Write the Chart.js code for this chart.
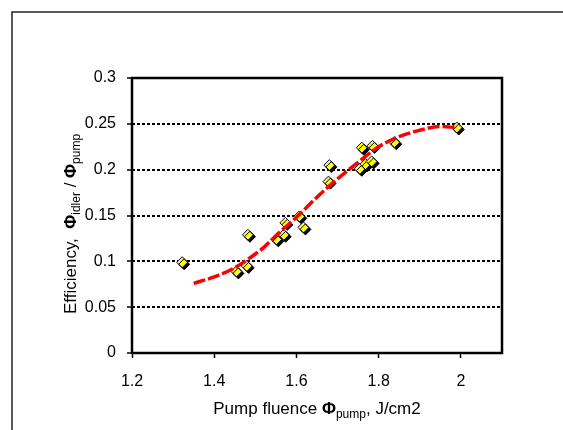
<!DOCTYPE html>
<html>
<head>
<meta charset="utf-8">
<script src="https://cdn.jsdelivr.net/npm/chart.js@4/dist/chart.umd.min.js"></script>
<style>
  html, body { margin: 0; padding: 0; background: #fff; }
  canvas { display: block; }
</style>
</head>
<body>
<canvas id="mainCanvas" width="563" height="430"></canvas>
<script>
// measured points
const fluence    = [1.322, 1.454, 1.479, 1.482, 1.551, 1.569, 1.573, 1.607, 1.617,
                    1.678, 1.680, 1.754, 1.759, 1.768, 1.783, 1.785, 1.838, 1.990];
const efficiency = [0.099, 0.089, 0.095, 0.129, 0.124, 0.129, 0.142, 0.149, 0.137,
                    0.187, 0.205, 0.201, 0.224, 0.206, 0.209, 0.226, 0.230, 0.246];

// red dashed fit curve
const fitX = [1.35, 1.40, 1.45, 1.50, 1.52, 1.55, 1.60, 1.65, 1.70, 1.75, 1.80, 1.85, 1.90, 1.95, 1.99];
const fitY = [0.076, 0.083, 0.093, 0.108, 0.115, 0.128, 0.148, 0.170, 0.190, 0.208, 0.225, 0.236, 0.243, 0.247, 0.246];

// axis ticks
const xTicks = [1.2, 1.4, 1.6, 1.8, 2.0];
const yTicks = [0, 0.05, 0.1, 0.15, 0.2, 0.25, 0.3];

const FONT = "'Liberation Sans', Arial, sans-serif";

/**
 * Draws a run of text pieces (some of them subscripts) centred on x
 */
function drawRich(ctx, parts, x, y) {
  let total = 0;
  parts.forEach(p => {
    ctx.font = `${p.bold ? "bold " : ""}${p.size}px ${FONT}`;
    p.w = ctx.measureText(p.t).width;
    total += p.w;
  });
  let cx = x - total / 2;
  ctx.fillStyle = "#000";
  ctx.textAlign = "left";
  ctx.textBaseline = "alphabetic";
  parts.forEach(p => {
    ctx.font = `${p.bold ? "bold " : ""}${p.size}px ${FONT}`;
    ctx.fillText(p.t, cx, y + (p.dy || 0));
    cx += p.w;
  });
}

const decorations = {
  id: "decorations",
  beforeDatasetDraw(chart, args) {
    if (args.index === 1) {
      const ctx = chart.ctx;
      ctx.save();
      ctx.shadowColor = "#000";
      ctx.shadowOffsetX = 2;
      ctx.shadowOffsetY = 2;
      ctx.shadowBlur = 0;
    }
  },
  afterDatasetDraw(chart, args) {
    if (args.index === 1) {
      chart.ctx.restore();
    }
  },
  afterDraw(chart) {
    const ctx = chart.ctx;
    const a = chart.chartArea;

    // plot box
    ctx.save();
    ctx.strokeStyle = "#000";
    ctx.lineWidth = 2.5;
    ctx.strokeRect(a.left, a.top, a.right - a.left, a.bottom - a.top);

    // outer frame (runs off the right and bottom)
    ctx.strokeStyle = "#222";
    ctx.lineWidth = 1.5;
    ctx.strokeRect(12, 12, 700, 600);

    // x title
    drawRich(ctx, [
      { t: "Pump fluence ", size: 17 },
      { t: "\u03A6", size: 17, bold: true },
      { t: "pump", size: 12, dy: 4 },
      { t: ", J/cm2", size: 17 },
    ], (a.left + a.right) / 2, 414);

    // y title
    ctx.translate(76, 224);
    ctx.rotate(-Math.PI / 2);
    drawRich(ctx, [
      { t: "Efficiency,  ", size: 17 },
      { t: "\u03A6", size: 17, bold: true },
      { t: "idler", size: 12, dy: 4 },
      { t: " / ", size: 17 },
      { t: "\u03A6", size: 17, bold: true },
      { t: "pump", size: 12, dy: 4 },
    ], 0, 0);
    ctx.restore();
  },
};

const fmt = v => String(+Number(v).toFixed(3));

const ctx = document.getElementById("mainCanvas").getContext("2d");
new Chart(ctx, {
  type: "scatter",
  data: {
    datasets: [
      {
        type: "line",
        label: "fit",
        data: fitX.map((x, i) => ({ x, y: fitY[i] })),
        borderColor: "#FF0000",
        borderWidth: 3.5,
        borderDash: [12, 3],
        pointRadius: 0,
        fill: false,
        cubicInterpolationMode: "monotone",
      },
      {
        label: "data",
        data: fluence.map((x, i) => ({ x, y: efficiency[i] })),
        pointStyle: "rectRot",
        pointRadius: 5.5,
        pointBackgroundColor: "#FFFF00",
        pointBorderColor: "#000080",
        pointBorderWidth: 1,
      },
    ],
  },
  options: {
    responsive: false,
    animation: false,
    layout: { padding: { left: 0, top: 78, right: 61, bottom: 0 } },
    plugins: { legend: { display: false }, tooltip: { enabled: false } },
    scales: {
      x: {
        type: "linear",
        min: 1.2,
        max: 2.1,
        afterFit(scale) { scale.height = 77; },
        afterBuildTicks(scale) { scale.ticks = xTicks.map(value => ({ value })); },
        grid: {
          drawOnChartArea: false,
          drawTicks: true,
          tickLength: 5,
          tickWidth: 1.5,
          tickColor: "#000",
        },
        border: { display: false },
        ticks: {
          color: "#000",
          font: { family: FONT, size: 16 },
          padding: 14,
          maxRotation: 0,
          callback: fmt,
        },
      },
      y: {
        min: 0,
        max: 0.3,
        afterFit(scale) { scale.width = 132; },
        afterBuildTicks(scale) { scale.ticks = yTicks.map(value => ({ value })); },
        grid: {
          color: c => (c.tick && (c.tick.value === 0 || c.tick.value === 0.3)) ? "rgba(0,0,0,0)" : "#000",
          lineWidth: 2,
          tickLength: 5,
          tickWidth: 1.5,
          tickColor: "#000",
        },
        border: { display: false, dash: [3, 2] },
        ticks: {
          color: "#000",
          font: { family: FONT, size: 16 },
          padding: 11,
          callback: fmt,
        },
      },
    },
  },
  plugins: [decorations],
});
</script>
</body>
</html>
